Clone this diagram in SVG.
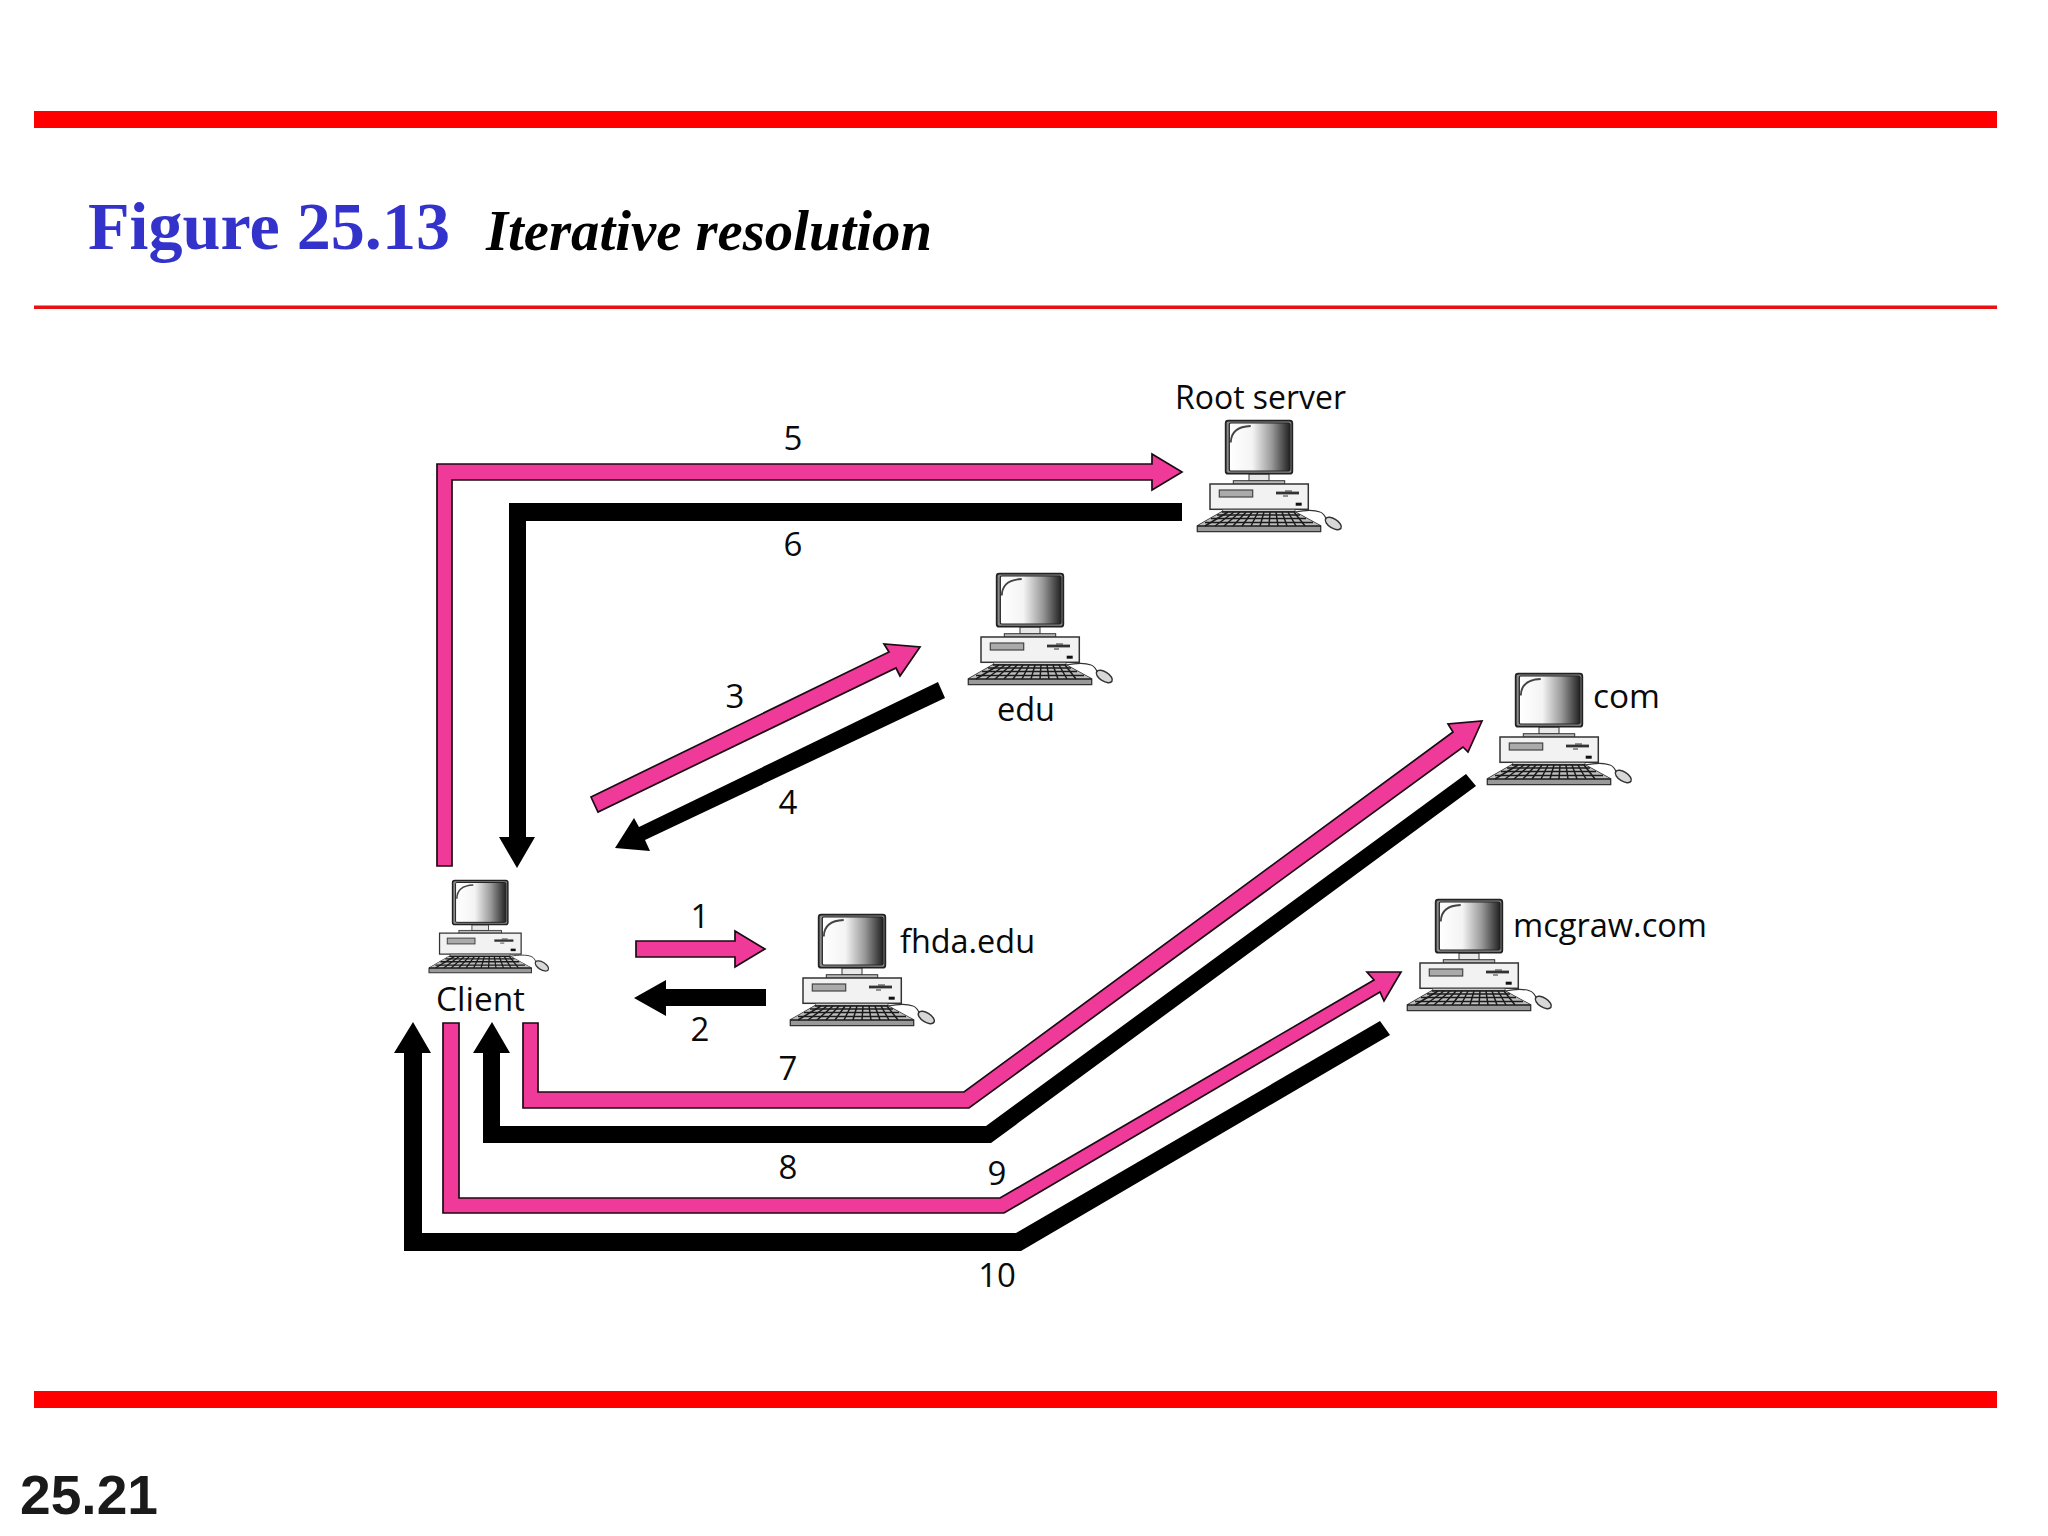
<svg xmlns="http://www.w3.org/2000/svg" xmlns:xlink="http://www.w3.org/1999/xlink" width="2048" height="1536" viewBox="0 0 2048 1536">
<style>
.bar{fill:#ff0000}
.pink{fill:#f03a9a;stroke:#1a0a12;stroke-width:1.700;stroke-linejoin:miter}
.blk{fill:#000}
.lab{font-family:"Open Sans","Noto Sans",sans-serif;font-size:33.500px;fill:#0a0a0a}
.num{font-family:"Open Sans","Noto Sans",sans-serif;font-size:33px;fill:#0a0a0a;text-anchor:middle}
</style>
<defs>
<linearGradient id="scr" x1="0" x2="1" y1="0" y2="0">
<stop offset="0" stop-color="#fff"/><stop offset="0.38" stop-color="#f4f4f4"/><stop offset="0.7" stop-color="#999"/><stop offset="1" stop-color="#222"/>
</linearGradient>
<symbol id="pc" overflow="visible" viewBox="0 0 10 10" width="10" height="10">
<rect x="24" y="54" width="20" height="7" fill="#e8e8e8" stroke="#333"/>
<rect x="8.300" y="60.700" width="51.400" height="3.500" fill="#bbb" stroke="#333"/>
<rect x="0.700" y="0.700" width="66.600" height="53" rx="2.500" fill="#8a8a8a" stroke="#222" stroke-width="1.800"/>
<rect x="4.300" y="3" width="60.700" height="48" rx="1.500" fill="url(#scr)" stroke="#222" stroke-width="1.200"/>
<path d="M5.800 22.500C6 12 12 6.500 25.700 6" fill="none" stroke="#444" stroke-width="1.800"/>
<rect x="-15" y="64" width="98.300" height="25.300" fill="#f2f2f2" stroke="#333" stroke-width="1.500"/>
<rect x="-5.700" y="70" width="33.400" height="7" fill="#aaa" stroke="#444" stroke-width="1.200"/>
<path d="M51 73h23" stroke="#333" stroke-width="2.800"/>
<path d="M60 71h7M58 76h5" stroke="#333" stroke-width="1"/>
<rect x="70.700" y="82.700" width="6" height="3" fill="#111"/>
<rect x="-2.300" y="89.300" width="72.300" height="3" fill="#ccc" stroke="#444" stroke-width=".8"/>
<path d="M-3.300 92H70L95.700 106V111.700H-27.700V106Z" fill="#999" stroke="#333" stroke-width="1.300"/>
<path d="M-3.300 92H70L95.700 106H-27.700Z" fill="#bdbdbd"/>
<path d="M-8 95H75M-14 98.500H81M-20 102.500H88M-27.700 106H95.700M-3.300 92H70" stroke="#1a1a1a" stroke-width="1.600" fill="none"/>
<path d="M3 92-20 106M9 92-10 106M15 92-1 106M21 92 8 106M27 92 17 106M33 92 26 106M39 92 35 106M45 92 44 106M51 92 53 106M57 92 62 106M63 92 71 106M69 92 80 106" stroke="#1a1a1a" stroke-width="1.500" fill="none"/>
<path d="M70 92C80 90 90 90 95 92C99 93 100 97 102 100" fill="none" stroke="#333" stroke-width="1.100"/>
<ellipse cx="108.300" cy="103.500" rx="9" ry="4.600" transform="rotate(32 108.300 103.500)" fill="#d8d8d8" stroke="#333" stroke-width="1.500"/>
</symbol>
</defs>
<rect width="2048" height="1536" fill="#fff"/>
<g id="frame">
<rect class="bar" x="34" y="111" width="1963" height="17"/>
<rect x="34" y="305.500" width="1963" height="3.500" fill="#e81010"/>
<rect class="bar" x="34" y="1391" width="1963" height="17"/>
<text x="88" y="249" font-family="Liberation Serif,serif" font-weight="700" font-size="68" fill="#3333cc" textLength="362" lengthAdjust="spacingAndGlyphs">Figure 25.13</text>
<text x="486" y="250" font-family="Liberation Serif,serif" font-weight="700" font-style="italic" font-size="57" fill="#000" textLength="446" lengthAdjust="spacingAndGlyphs">Iterative resolution</text>
<text x="20" y="1514" font-family="Liberation Sans,sans-serif" font-weight="700" font-size="56" fill="#1a1a1a" textLength="138" lengthAdjust="spacingAndGlyphs">25.21</text>
</g>
<g id="connectors">
<polygon class="pink" points="437,866 437,464 1152,464 1152,454 1182,472 1152,490 1152,480 452,480 452,866"/>
<polygon class="blk" points="1182,503 509,503 509,837 499,837 517,868 535,837 526,837 526,521 1182,521"/>
<polygon class="pink" points="591,797 889,652 884,644 920,647 900,676 896,668 598,812"/>
<polygon class="blk" points="938,682 639,827 634,818 615,848 650,851 645,840 945,698"/>
<polygon class="pink" points="636,941 735,941 735,931 765,949 735,967 735,957 636,957"/>
<polygon class="blk" points="766,989 666,989 666,980 634,998 666,1016 666,1006 766,1006"/>
<polygon class="pink" points="523,1023 538,1023 538,1092 964,1092 1453,732 1448,724 1482,721 1468,752 1463,747 969,1108 523,1108"/>
<polygon class="blk" points="483,1143 483,1053 473,1053 492,1022 510,1053 500,1053 500,1126 986,1126 1466,774 1476,786 991,1143"/>
<polygon class="pink" points="443,1023 459,1023 459,1198 1000,1198 1374,980 1367,972 1401,972 1384,1001 1380,992 1004,1213 443,1213"/>
<polygon class="blk" points="404,1251 404,1053 394,1053 413,1022 431,1053 422,1053 422,1233 1016,1233 1380,1021 1390,1035 1021,1251"/>
<text class="num" x="700" y="928">1</text>
<text class="num" x="700" y="1041">2</text>
<text class="num" x="735" y="708">3</text>
<text class="num" x="788" y="814">4</text>
<text class="num" x="793" y="450">5</text>
<text class="num" x="793" y="556">6</text>
<text class="num" x="788" y="1080">7</text>
<text class="num" x="788" y="1179">8</text>
<text class="num" x="997" y="1185">9</text>
<text class="num" x="997" y="1287">10</text>
</g>
<g id="node-root"><use xlink:href="#pc" href="#pc" x="1225" y="420"/><text class="lab" x="1175" y="409" textLength="171" lengthAdjust="spacingAndGlyphs">Root server</text></g>
<g id="node-edu"><use xlink:href="#pc" href="#pc" x="996" y="573"/><text class="lab" x="997" y="720.500" textLength="58" lengthAdjust="spacingAndGlyphs">edu</text></g>
<g id="node-com"><use xlink:href="#pc" href="#pc" x="1515" y="673"/><text class="lab" x="1593" y="708" textLength="67" lengthAdjust="spacingAndGlyphs">com</text></g>
<g id="node-mcgraw"><use xlink:href="#pc" href="#pc" x="1435" y="899"/><text class="lab" x="1513" y="936.500" textLength="194" lengthAdjust="spacingAndGlyphs">mcgraw.com</text></g>
<g id="node-fhda"><use xlink:href="#pc" href="#pc" x="818" y="914"/><text class="lab" x="900" y="953" textLength="135" lengthAdjust="spacingAndGlyphs">fhda.edu</text></g>
<g id="node-client"><g transform="translate(452 880) scale(.83)"><use xlink:href="#pc" href="#pc"/></g><text class="lab" x="436" y="1011" textLength="89" lengthAdjust="spacingAndGlyphs">Client</text></g>
</svg>
